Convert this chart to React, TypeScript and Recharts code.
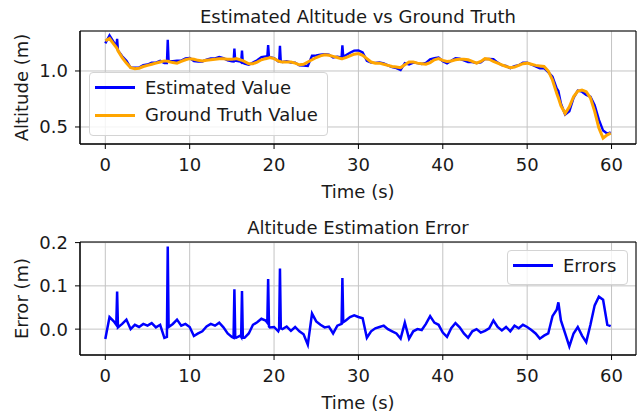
import React from 'react';
import { LineChart, Line, XAxis, YAxis, CartesianGrid, ReferenceArea, Legend } from 'recharts';

// sample times (s), with the short spikes as extra samples
const times = [
  0, 0.5, 1, 1.3, 1.4, 1.5, 2, 2.5, 3, 3.5, 4, 4.5, 5, 5.5, 6, 6.5, 7, 7.3, 7.4, 7.5,
  8, 8.5, 9, 9.5, 10, 10.5, 11, 11.5, 12, 12.5, 13, 13.5, 14, 14.5, 15, 15.2, 15.3, 15.4, 15.5, 16,
  16.1, 16.2, 16.3, 16.5, 17, 17.5, 18, 18.5, 19, 19.2, 19.3, 19.4, 19.5, 20, 20.5, 20.6, 20.7, 20.8, 21, 21.5,
  22, 22.5, 23, 23.5, 24, 24.5, 25, 25.5, 26, 26.5, 27, 27.5, 28, 28.1, 28.2, 28.5, 29, 29.5, 30, 30.5,
  31, 31.5, 32, 32.5, 33, 33.5, 34, 34.5, 35, 35.5, 36, 36.5, 37, 37.5, 38, 38.5, 39, 39.5, 40, 40.5,
  41, 41.5, 42, 42.5, 43, 43.5, 44, 44.5, 45, 45.5, 46, 46.5, 47, 47.5, 48, 48.5, 49, 49.5, 50, 50.5,
  51, 51.5, 52, 52.5, 53, 53.5, 53.7, 54, 54.5, 55, 55.5, 56, 56.5, 57, 57.5, 58, 58.5, 59, 59.5, 59.9,
];

const groundTruth = [
  1.27, 1.29, 1.24, 1.21, 1.2, 1.18, 1.12, 1.07, 1.03, 1.02, 1.025, 1.04, 1.05, 1.06, 1.07, 1.08, 1.09, 1.088, 1.087, 1.085,
  1.075, 1.07, 1.085, 1.1, 1.11, 1.105, 1.095, 1.09, 1.095, 1.1, 1.105, 1.11, 1.11, 1.105, 1.105, 1.106, 1.107, 1.108, 1.11, 1.1,
  1.097, 1.095, 1.093, 1.085, 1.065, 1.065, 1.08, 1.1, 1.11, 1.113, 1.115, 1.117, 1.12, 1.11, 1.09, 1.087, 1.085, 1.083, 1.08, 1.08,
  1.08, 1.07, 1.055, 1.06, 1.08, 1.1, 1.12, 1.135, 1.145, 1.14, 1.13, 1.12, 1.11, 1.11, 1.112, 1.12, 1.135, 1.15, 1.155, 1.14,
  1.11, 1.08, 1.07, 1.07, 1.06, 1.05, 1.04, 1.035, 1.03, 1.055, 1.08, 1.08, 1.07, 1.065, 1.06, 1.075, 1.1, 1.11, 1.095, 1.085,
  1.09, 1.1, 1.105, 1.105, 1.1, 1.085, 1.07, 1.085, 1.11, 1.105, 1.085, 1.07, 1.055, 1.04, 1.03, 1.035, 1.05, 1.065, 1.07, 1.06,
  1.05, 1.045, 1.04, 1.0, 0.92, 0.8, 0.76, 0.69, 0.62, 0.68, 0.77, 0.82, 0.83, 0.815, 0.76, 0.64, 0.49, 0.4, 0.43, 0.445,
];

const errors = [
  -0.023, 0.028, 0.018, 0.01, 0.087, 0.004, 0.012, 0.022, 0.0, 0.01, 0.005, 0.012, 0.008, 0.014, 0.004, 0.01, -0.02, -0.018, 0.191, 0.005,
  0.012, 0.022, 0.008, 0.012, 0.005, -0.016, -0.01, -0.005, 0.006, 0.012, 0.008, 0.015, 0.004, -0.01, -0.018, -0.02, 0.092, -0.018, -0.02, -0.015,
  -0.018, 0.088, -0.02, -0.02, -0.01, 0.01, 0.016, 0.024, 0.02, 0.015, 0.116, 0.006, 0.004, 0.005, -0.005, 0.0, 0.14, 0.002, 0.0, 0.006,
  -0.004, 0.005, -0.005, -0.012, -0.036, 0.036, 0.018, 0.01, 0.004, 0.006, -0.01, 0.008, 0.012, 0.118, 0.016, 0.02, 0.028, 0.032, 0.028, 0.025,
  -0.02, -0.005, 0.002, 0.005, 0.008, 0.0, -0.005, -0.01, -0.022, 0.015, -0.022, -0.005, 0.0, -0.002, 0.012, 0.03, 0.015, 0.01, -0.008, -0.018,
  0.002, 0.014, 0.004, -0.01, -0.02, -0.005, 0.0, -0.008, -0.004, 0.002, 0.02, 0.005, -0.003, 0.005, -0.005, 0.008, 0.002, 0.01, 0.005, -0.002,
  -0.01, -0.022, -0.015, -0.01, 0.03, 0.045, 0.062, 0.02, -0.01, -0.04, -0.01, 0.005, -0.015, -0.03, 0.01, 0.055, 0.075, 0.068, 0.01, 0.007,
];

const xTicks = [0, 10, 20, 30, 40, 50, 60];
const altTicks = [0.5, 1.0];
const errTicks = [0, 0.1, 0.2];

const xDomain: [number, number] = [-3, 62.9];
const altDomain: [number, number] = [0.348, 1.357];
const errDomain: [number, number] = [-0.0598, 0.2014];

const rows = times.map((t, i) => ({
  t,
  truth: groundTruth[i],
  estimated: +(groundTruth[i] + errors[i]).toFixed(3),
  error: errors[i],
}));

const FONT = '"DejaVu Sans", sans-serif';
const TEXT = '#1a1a1a';
const W = 641;
const H = 206;
const margin = { top: 31, right: 5, bottom: 8, left: 0 };
const tickStyle = { fill: TEXT, fontSize: 18, fontFamily: FONT };

type LegendItem = { label: string; color: string; width: number };

const LegendBox = ({ items, width, height }: { items: LegendItem[]; width: number; height: number }) => (
  <div
    style={{
      position: 'relative',
      width,
      height,
      boxSizing: 'border-box',
      border: '1px solid #d4d4d4',
      borderRadius: 4,
      background: 'rgba(255,255,255,0.8)',
      fontFamily: FONT,
      fontSize: 18,
      color: TEXT,
    }}
  >
    {items.map((it, i) => (
      <div
        key={it.label}
        style={{ position: 'absolute', left: 0, top: 1 + i * 27.4, height: 27.4, display: 'flex', alignItems: 'center', whiteSpace: 'nowrap' }}
      >
        <span style={{ display: 'inline-block', marginLeft: 5, width: 40, height: it.width, background: it.color }} />
        <span style={{ marginLeft: 10, lineHeight: '18px' }}>{it.label}</span>
      </div>
    ))}
  </div>
);

const Title = ({ text, top }: { text: string; top: number }) => (
  <div
    style={{
      position: 'absolute',
      left: 80,
      width: 556,
      top,
      textAlign: 'center',
      fontFamily: FONT,
      fontSize: 18,
      lineHeight: '18px',
      color: TEXT,
    }}
  >
    {text}
  </div>
);

export default function App() {
  return (
    <div style={{ position: 'absolute', left: 0, top: 0, width: W, height: 414, background: '#fff', overflow: 'hidden' }}>
      <Title text="Estimated Altitude vs Ground Truth" top={7.5} />
      <div style={{ position: 'absolute', left: 0, top: 0 }}>
        <LineChart width={W} height={H} data={rows} margin={margin}>
          <CartesianGrid stroke="#c4c4c4" strokeWidth={1} />
          <XAxis
            dataKey="t"
            type="number"
            domain={xDomain}
            ticks={xTicks}
            allowDataOverflow
            height={54}
            tickSize={5}
            tickMargin={9}
            tick={tickStyle}
            stroke="#000"
            label={{ value: 'Time (s)', position: 'insideBottom', offset: 0, fill: TEXT, fontSize: 18, fontFamily: FONT }}
          />
          <YAxis
            type="number"
            domain={altDomain}
            ticks={altTicks}
            allowDataOverflow
            width={80}
            tickSize={5}
            tickMargin={7}
            tick={tickStyle}
            tickFormatter={(v: number) => v.toFixed(1)}
            stroke="#000"
            label={{ value: 'Altitude (m)', angle: -90, position: 'insideLeft', offset: 22, fill: TEXT, fontSize: 18, fontFamily: FONT, style: { textAnchor: 'middle' } }}
          />
          <ReferenceArea x1={xDomain[0]} x2={xDomain[1]} y1={altDomain[0]} y2={altDomain[1]} fill="none" stroke="#000" strokeWidth={1} />
          <Line type="linear" dataKey="estimated" name="Estimated Value" stroke="#0000ff" strokeWidth={2.4} dot={false} isAnimationActive={false} />
          <Line type="linear" dataKey="truth" name="Ground Truth Value" stroke="#ffa500" strokeWidth={3} dot={false} isAnimationActive={false} />
          <Legend
            layout="vertical"
            align="center"
            verticalAlign="middle"
            wrapperStyle={{ left: 89, top: 72, width: 'auto', height: 'auto' }}
            content={() => (
              <LegendBox
                width={239}
                height={64}
                items={[
                  { label: 'Estimated Value', color: '#0000ff', width: 3 },
                  { label: 'Ground Truth Value', color: '#ffa500', width: 3 },
                ]}
              />
            )}
          />
        </LineChart>
      </div>

      <Title text="Altitude Estimation Error" top={218.5} />
      <div style={{ position: 'absolute', left: 0, top: 211 }}>
        <LineChart width={W} height={H} data={rows} margin={margin}>
          <CartesianGrid stroke="#c4c4c4" strokeWidth={1} />
          <XAxis
            dataKey="t"
            type="number"
            domain={xDomain}
            ticks={xTicks}
            allowDataOverflow
            height={54}
            tickSize={5}
            tickMargin={9}
            tick={tickStyle}
            stroke="#000"
            label={{ value: 'Time (s)', position: 'insideBottom', offset: 0, fill: TEXT, fontSize: 18, fontFamily: FONT }}
          />
          <YAxis
            type="number"
            domain={errDomain}
            ticks={errTicks}
            allowDataOverflow
            width={80}
            tickSize={5}
            tickMargin={7}
            tick={tickStyle}
            tickFormatter={(v: number) => v.toFixed(1)}
            stroke="#000"
            label={{ value: 'Error (m)', angle: -90, position: 'insideLeft', offset: 22, fill: TEXT, fontSize: 18, fontFamily: FONT, style: { textAnchor: 'middle' } }}
          />
          <ReferenceArea x1={xDomain[0]} x2={xDomain[1]} y1={errDomain[0]} y2={errDomain[1]} fill="none" stroke="#000" strokeWidth={1} />
          <Line type="linear" dataKey="error" name="Errors" stroke="#0000ff" strokeWidth={2.5} dot={false} isAnimationActive={false} />
          <Legend
            layout="vertical"
            align="center"
            verticalAlign="middle"
            wrapperStyle={{ left: 507, top: 39, width: 'auto', height: 'auto' }}
            content={() => (
              <LegendBox width={121} height={35} items={[{ label: 'Errors', color: '#0000ff', width: 3 }]} />
            )}
          />
        </LineChart>
      </div>
    </div>
  );
}
